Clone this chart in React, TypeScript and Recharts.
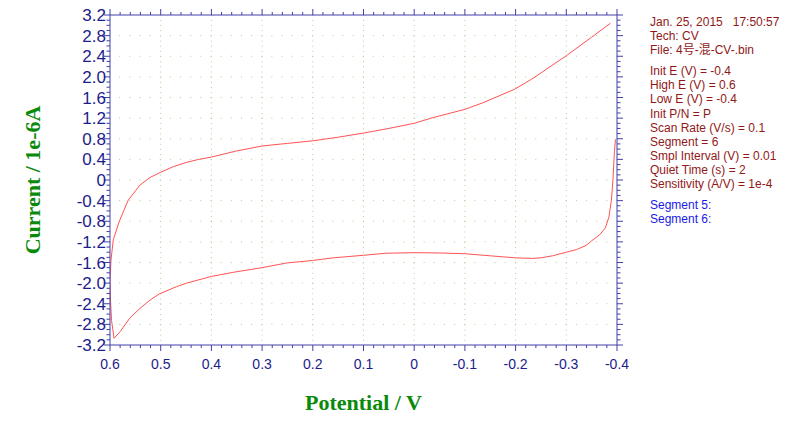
import React from "react";
import {
  LineChart,
  Line,
  XAxis,
  YAxis,
  ReferenceLine,
  Label,
} from "recharts";

// segments 5 & 6, in scan order (V, 1e-6 A)
const potential = [
  -0.397, -0.395, -0.394, -0.392, -0.389, -0.384, -0.377, -0.366, -0.35, -0.339,
  -0.32, -0.3, -0.273, -0.25, -0.234, -0.2, -0.15, -0.1, -0.05, 0,
  0.055, 0.1, 0.16, 0.2, 0.252, 0.3, 0.357, 0.4, 0.449, 0.469,
  0.503, 0.521, 0.541, 0.561, 0.58, 0.592, 0.597, 0.599, 0.6, 0.598,
  0.5935, 0.582, 0.564, 0.541, 0.521, 0.5, 0.475, 0.45, 0.425, 0.4,
  0.352, 0.3, 0.25, 0.2, 0.15, 0.1, 0.05, 0, -0.037, -0.1,
  -0.136, -0.198, -0.234, -0.3, -0.35, -0.387,
];
const current = [
  0.79, 0.55, 0.39, 0.0, -0.39, -0.72, -0.93, -1.06, -1.18, -1.27,
  -1.35, -1.4, -1.47, -1.51, -1.52, -1.51, -1.47, -1.43, -1.415, -1.41,
  -1.42, -1.46, -1.51, -1.56, -1.61, -1.7, -1.79, -1.87, -2.0, -2.07,
  -2.21, -2.33, -2.49, -2.68, -2.94, -3.07, -2.72, -2.33, -1.94, -1.55,
  -1.16, -0.81, -0.39, -0.1, 0.05, 0.15, 0.26, 0.34, 0.4, 0.445,
  0.56, 0.66, 0.71, 0.76, 0.83, 0.91, 1.0, 1.1, 1.21, 1.37,
  1.5, 1.76, 1.97, 2.41, 2.77, 3.04,
];

const xTicks = [0.6, 0.5, 0.4, 0.3, 0.2, 0.1, 0, -0.1, -0.2, -0.3, -0.4];
const xTickLabels = ["0.6", "0.5", "0.4", "0.3", "0.2", "0.1", "0", "-0.1", "-0.2", "-0.3", "-0.4"];
const yTicks = [3.2, 2.8, 2.4, 2.0, 1.6, 1.2, 0.8, 0.4, 0, -0.4, -0.8, -1.2, -1.6, -2.0, -2.4, -2.8, -3.2];
const yTickLabels = ["3.2", "2.8", "2.4", "2.0", "1.6", "1.2", "0.8", "0.4", "0", "-0.4", "-0.8", "-1.2", "-1.6", "-2.0", "-2.4", "-2.8", "-3.2"];

const infoLines = [
  "Jan. 25, 2015   17:50:57",
  "Tech: CV",
  "File: 4号-混-CV-.bin",
];
const paramLines = [
  "Init E (V) = -0.4",
  "High E (V) = 0.6",
  "Low E (V) = -0.4",
  "Init P/N = P",
  "Scan Rate (V/s) = 0.1",
  "Segment = 6",
  "Smpl Interval (V) = 0.01",
  "Quiet Time (s) = 2",
  "Sensitivity (A/V) = 1e-4",
];
const segmentLines = ["Segment 5:", "Segment 6:"];

const AXIS = "#4040a8";
const TICK_TEXT = "#1c1c8c";
const GRID = "#bccb94";
const TITLE = "#0a8a0a";

// minor ticks: 5 per x division, 4 per y division
const subdivide = (major: number[], n: number) => {
  const out: number[] = [];
  for (let k = 0; k < major.length - 1; k++) {
    for (let j = 0; j < n; j++) {
      out.push(+(major[k] + ((major[k + 1] - major[k]) * j) / n).toFixed(4));
    }
  }
  out.push(major[major.length - 1]);
  return out;
};
const xAllTicks = subdivide(xTicks, 5);
const yAllTicks = subdivide(yTicks, 4);

const near = (a: number, list: number[]) => list.findIndex((b) => Math.abs(a - b) < 1e-6);

const data = potential.map((v, k) => ({ v, i: current[k] }));

const XTick = (props: any) => {
  const { x, y, payload, side } = props;
  const idx = near(payload.value, xTicks);
  const len = idx >= 0 ? 6 : 3;
  const dir = side === "top" ? -1 : 1;
  return (
    <g>
      <line x1={x} y1={y} x2={x} y2={y + dir * len} stroke={AXIS} />
      {side === "bottom" && idx >= 0 && (
        <text
          x={x}
          y={y + 24}
          textAnchor="middle"
          fill={TICK_TEXT}
          fontSize={14}
          fontFamily="'Liberation Sans', Arial, sans-serif"
        >
          {xTickLabels[idx]}
        </text>
      )}
    </g>
  );
};

const YTick = (props: any) => {
  const { x, y, payload, side } = props;
  const idx = near(payload.value, yTicks);
  const len = idx >= 0 ? 6 : 3.5;
  const dir = side === "right" ? 1 : -1;
  return (
    <g>
      <line x1={x} y1={y} x2={x + dir * len} y2={y} stroke={AXIS} />
      {side === "left" && idx >= 0 && (
        <text
          x={x - 4}
          y={y + 6}
          textAnchor="end"
          fill={TICK_TEXT}
          fontSize={17}
          fontFamily="'Liberation Sans', Arial, sans-serif"
        >
          {yTickLabels[idx]}
        </text>
      )}
    </g>
  );
};

export default function App() {
  return (
    <div style={{ position: "absolute", left: 0, top: 0, width: 800, height: 427, background: "#fff" }}>
      <LineChart
        width={800}
        height={427}
        data={data}
        margin={{ top: 14, right: 182, bottom: 81, left: 109 }}
      >
        <XAxis
          xAxisId="bottom"
          type="number"
          dataKey="v"
          domain={[-0.4, 0.6]}
          reversed
          ticks={xAllTicks}
          interval={0}
          height={1}
          tickSize={0}
          tickMargin={0}
          tickLine={false}
          axisLine={{ stroke: AXIS }}
          tick={<XTick side="bottom" />}
          allowDataOverflow
        >
          <Label
            value="Potential / V"
            position="bottom"
            offset={48}
            fill={TITLE}
            fontSize={22}
            fontWeight="bold"
            fontFamily="'Liberation Serif', 'Times New Roman', serif"
          />
        </XAxis>
        <XAxis
          xAxisId="top"
          orientation="top"
          type="number"
          dataKey="v"
          domain={[-0.4, 0.6]}
          reversed
          ticks={xAllTicks}
          interval={0}
          height={1}
          tickSize={0}
          tickMargin={0}
          tickLine={false}
          axisLine={{ stroke: AXIS }}
          tick={<XTick side="top" />}
          allowDataOverflow
        />
        <YAxis
          yAxisId="left"
          type="number"
          domain={[-3.2, 3.2]}
          ticks={yAllTicks}
          interval={0}
          width={1}
          tickSize={0}
          tickMargin={0}
          tickLine={false}
          axisLine={{ stroke: AXIS }}
          tick={<YTick side="left" />}
          allowDataOverflow
        >
          <Label
            value="Current / 1e-6A"
            position="left"
            angle={-90}
            offset={77}
            fill={TITLE}
            fontSize={22}
            fontWeight="bold"
            fontFamily="'Liberation Serif', 'Times New Roman', serif"
            style={{ textAnchor: "middle" }}
          />
        </YAxis>
        <YAxis
          yAxisId="right"
          orientation="right"
          type="number"
          domain={[-3.2, 3.2]}
          ticks={yAllTicks}
          interval={0}
          width={1}
          tickSize={0}
          tickMargin={0}
          tickLine={false}
          axisLine={{ stroke: AXIS }}
          tick={<YTick side="right" />}
          allowDataOverflow
        />
        {xTicks.slice(1, -1).map((t) => (
          <ReferenceLine
            key={"gx" + t}
            xAxisId="bottom"
            yAxisId="left"
            x={t}
            stroke={GRID}
            strokeDasharray="0 4.16 1 0"
          />
        ))}
        {yTicks.slice(1, -1).map((t) => (
          <ReferenceLine
            key={"gy" + t}
            xAxisId="bottom"
            yAxisId="left"
            y={t}
            stroke={GRID}
            strokeDasharray="0 9.15 1 0"
          />
        ))}
        <Line
          xAxisId="bottom"
          yAxisId="left"
          type="linear"
          dataKey="i"
          stroke="#ff5252"
          strokeWidth={1}
          dot={false}
          isAnimationActive={false}
        />
      </LineChart>
      <div
        style={{
          position: "absolute",
          left: 650,
          top: 15,
          fontFamily: "'Liberation Sans', Arial, 'Noto Sans CJK SC', sans-serif",
          fontSize: 12,
          lineHeight: "14.1px",
          whiteSpace: "pre",
        }}
      >
        <div style={{ color: "#901818" }}>
          {infoLines.map((s) => (
            <div key={s}>{s}</div>
          ))}
        </div>
        <div style={{ color: "#901818", marginTop: 7 }}>
          {paramLines.map((s) => (
            <div key={s}>{s}</div>
          ))}
        </div>
        <div style={{ color: "#1a1ae6", marginTop: 7 }}>
          {segmentLines.map((s) => (
            <div key={s}>{s}</div>
          ))}
        </div>
      </div>
    </div>
  );
}
